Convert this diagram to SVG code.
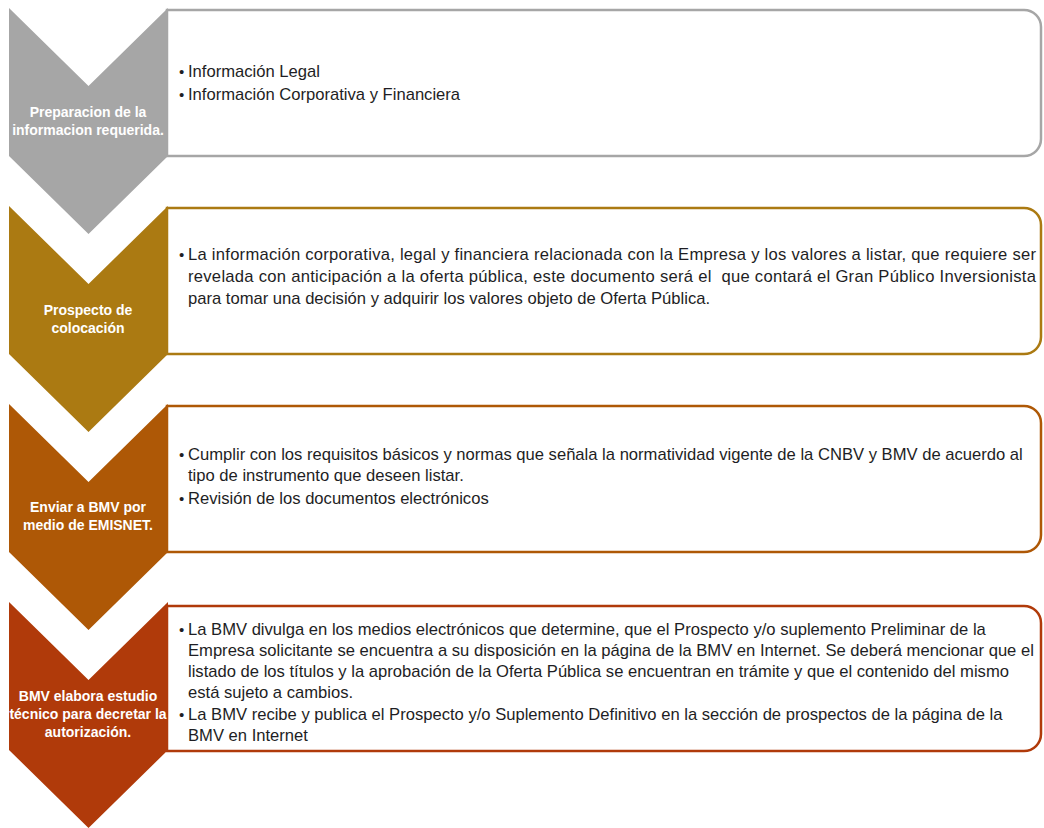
<svg xmlns="http://www.w3.org/2000/svg" width="1044" height="828" viewBox="0 0 1044 828">
<style>
.box{fill:#ffffff;stroke-width:2.5}
.lbl{font-family:"Liberation Sans",Arial,sans-serif;font-size:14px;font-weight:bold;fill:#ffffff;text-anchor:middle}
.txt{font-family:"Liberation Sans",Arial,sans-serif;font-size:16.6px;fill:#1e1e24}
.bul{font-family:"Liberation Sans",Arial,sans-serif;font-size:15px;fill:#1e1e24}
</style>
<rect width="1044" height="828" fill="#ffffff"/>
<g id="step1">
<path class="box" stroke="#a6a6a6" d="M167,10 H1024 A17,17 0 0 1 1041,27 V139 A17,17 0 0 1 1024,156 H167 Z"/>
<polygon fill="#a6a6a6" points="9,8 88.5,86 168,8 168,156 88.5,234 9,156"/>
<text class="lbl" x="88" y="117">Preparacion de la</text>
<text class="lbl" x="88" y="135">informacion requerida.</text>
<text class="bul" x="179" y="77">•</text><text class="txt" x="188" y="77">Información Legal</text>
<text class="bul" x="179" y="100">•</text><text class="txt" x="188" y="100">Información Corporativa y Financiera</text>
</g>
<g id="step2">
<path class="box" stroke="#ab7a12" d="M167,208 H1024 A17,17 0 0 1 1041,225 V337 A17,17 0 0 1 1024,354 H167 Z"/>
<polygon fill="#ab7a12" points="9,206 88.5,284 168,206 168,354 88.5,432 9,354"/>
<text class="lbl" x="88" y="315">Prospecto de</text>
<text class="lbl" x="88" y="333">colocación</text>
<text class="bul" x="179" y="260">•</text><text class="txt" x="188" y="260" textLength="848" lengthAdjust="spacing">La información corporativa, legal y financiera relacionada con la Empresa y los valores a listar, que requiere ser</text>
<text class="txt" x="188" y="282" textLength="848" lengthAdjust="spacing" xml:space="preserve">revelada con anticipación a la oferta pública, este documento será el  que contará el Gran Público Inversionista</text>
<text class="txt" x="188" y="304">para tomar una decisión y adquirir los valores objeto de Oferta Pública.</text>
</g>
<g id="step3">
<path class="box" stroke="#ae5806" d="M167,406 H1024 A17,17 0 0 1 1041,423 V535 A17,17 0 0 1 1024,552 H167 Z"/>
<polygon fill="#ae5806" points="9,404 88.5,482 168,404 168,552 88.5,630 9,552"/>
<text class="lbl" x="88" y="512">Enviar a BMV por</text>
<text class="lbl" x="88" y="530">medio de EMISNET.</text>
<text class="bul" x="179" y="460">•</text><text class="txt" x="188" y="460">Cumplir con los requisitos básicos y normas que señala la normatividad vigente de la CNBV y BMV de acuerdo al</text>
<text class="txt" x="188" y="481">tipo de instrumento que deseen listar.</text>
<text class="bul" x="179" y="504">•</text><text class="txt" x="188" y="504">Revisión de los documentos electrónicos</text>
</g>
<g id="step4">
<path class="box" stroke="#b03a0a" d="M167,606 H1024 A17,17 0 0 1 1041,623 V734 A17,17 0 0 1 1024,751 H167 Z"/>
<polygon fill="#b03a0a" points="9,602 88.5,680 168,602 168,750 88.5,828 9,750"/>
<text class="lbl" x="88" y="701">BMV elabora estudio</text>
<text class="lbl" x="88" y="719">técnico para decretar la</text>
<text class="lbl" x="88" y="737">autorización.</text>
<text class="bul" x="179" y="635">•</text><text class="txt" x="188" y="635">La BMV divulga en los medios electrónicos que determine, que el Prospecto y/o suplemento Preliminar de la</text>
<text class="txt" x="188" y="656">Empresa solicitante se encuentra a su disposición en la página de la BMV en Internet. Se deberá mencionar que el</text>
<text class="txt" x="188" y="677">listado de los títulos y la aprobación de la Oferta Pública se encuentran en trámite y que el contenido del mismo</text>
<text class="txt" x="188" y="698">está sujeto a cambios.</text>
<text class="bul" x="179" y="720">•</text><text class="txt" x="188" y="720">La BMV recibe y publica el Prospecto y/o Suplemento Definitivo en la sección de prospectos de la página de la</text>
<text class="txt" x="188" y="741">BMV en Internet</text>
</g>
<g id="connectors"></g>
</svg>
